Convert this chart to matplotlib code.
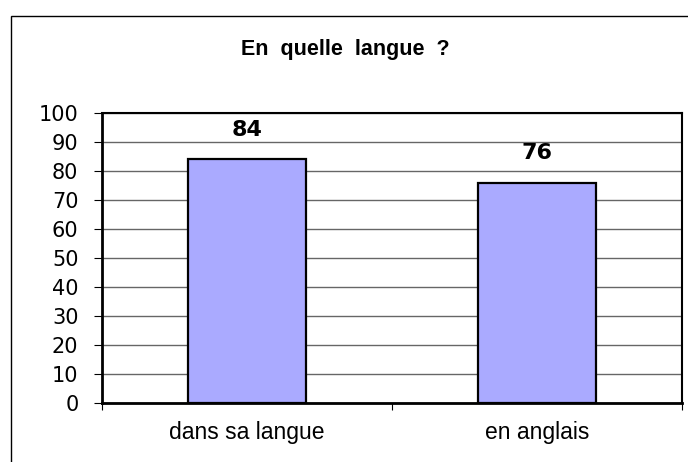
import matplotlib.pyplot as plt
from matplotlib.patches import Rectangle

categories = ['dans sa langue', 'en anglais']
values = [84, 76]
yticks = list(range(0, 101, 10))

W, H = 688, 462
fig = plt.figure(figsize=(W / 100, H / 100), dpi=100)
fig.patch.set_facecolor('white')

# outer chart border (runs off the right and bottom edges)
fig.patches.append(Rectangle((11 / W, -0.05), 1.2, 1 - 16 / H + 0.05,
                             transform=fig.transFigure, fill=False,
                             edgecolor='black', linewidth=1.0))

ax = fig.add_axes([102 / W, 1 - 403 / H, 580 / W, 290 / H])
x = list(range(len(categories)))
bars = ax.bar(x, values, width=0.407, color='#AAAAFF', edgecolor='black',
              linewidth=1.6, zorder=3)

ax.set_xlim(-0.5, len(categories) - 0.5)
ax.set_ylim(0, 100)
ax.set_yticks(yticks)
ax.set_yticklabels([str(v) for v in yticks], fontsize=15, family='DejaVu Sans')
ax.yaxis.grid(True, color='#666666', linewidth=1.0, zorder=0)

# category labels sit between boundary ticks
ax.set_xticks([-0.5, 0.5, 1.5])
ax.set_xticklabels(['', '', ''])
ax.tick_params(axis='x', length=5, width=0.8, direction='out')
ax.tick_params(axis='y', length=6, width=0.8, direction='out', pad=11)
for xi, cat in zip(x, categories):
    ax.text(xi, -0.1, cat, transform=ax.get_xaxis_transform(),
            ha='center', va='center', fontsize=16.5, family='Liberation Sans')

for spine in ['left', 'bottom']:
    ax.spines[spine].set_linewidth(2.0)
for spine in ['top', 'right']:
    ax.spines[spine].set_linewidth(1.5)

for b, v in zip(bars, values):
    ax.annotate(str(v), xy=(b.get_x() + b.get_width() / 2, v),
                xytext=(0, 14), textcoords='offset points',
                ha='center', va='bottom', fontsize=16, fontweight='semibold',
                family='DejaVu Sans')

fig.text(345 / W, 1 - 50 / H, 'En  quelle  langue  ?', ha='center', va='center',
         fontsize=15.5, fontweight='bold', family='Liberation Sans')

fig.savefig('out.png', dpi=100)
